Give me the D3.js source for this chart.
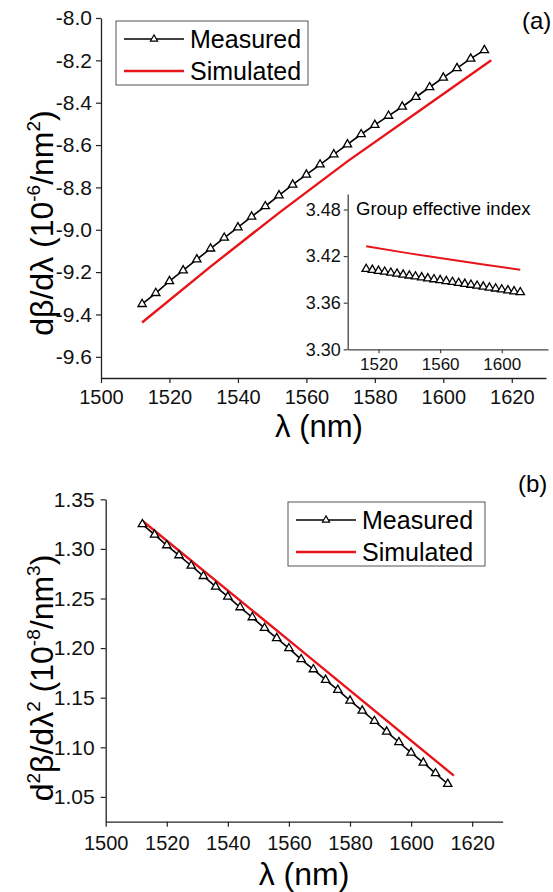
<!DOCTYPE html>
<html>
<head>
<meta charset="utf-8">
<script src="https://cdn.jsdelivr.net/npm/d3@7"></script>
<style>
body { margin: 0; background: #fff; }
svg { display: block; font-family: "Liberation Sans", Arial, sans-serif; }
</style>
</head>
<body>
<svg></svg>
<script>
const width = 553;
const height = 892;

// длины волн для измеренных точек (нм)
const wlMeasured = [1512, 1516, 1520, 1524, 1528, 1532, 1536, 1540, 1544, 1548, 1552, 1556, 1560,
    1564, 1568, 1572, 1576, 1580, 1584, 1588, 1592, 1596, 1600, 1604, 1608, 1612];
// (a) dβ/dλ, 10^-6/nm^2
const dbMeasured = [-9.351, -9.299, -9.243, -9.192, -9.140, -9.089, -9.038, -8.989, -8.938, -8.889,
    -8.838, -8.787, -8.740, -8.692, -8.644, -8.597, -8.549, -8.505, -8.462, -8.419, -8.373, -8.327,
    -8.282, -8.237, -8.192, -8.152];
const wlSimTop = [1512, 1532, 1552, 1572, 1592, 1614];
const dbSimulated = [-9.438, -9.174, -8.920, -8.677, -8.450, -8.200];
// вставка: групповой индекс
const ngMeasured = [3.4034, 3.4022, 3.4010, 3.3998, 3.3985, 3.3973, 3.3961, 3.3949, 3.3937, 3.3925,
    3.3913, 3.3901, 3.3890, 3.3878, 3.3866, 3.3854, 3.3842, 3.3830, 3.3818, 3.3806, 3.3794, 3.3782,
    3.3770, 3.3758, 3.3746, 3.3734];
const wlSimInset = [1512, 1537, 1562, 1587, 1612];
const ngSimulated = [3.4327, 3.4245, 3.4168, 3.4095, 3.4025];
// (b) d2β/dλ2, 10^-8/nm^3
const d2bMeasured = [1.3248, 1.3143, 1.3036, 1.2935, 1.2830, 1.2726, 1.2619, 1.2518, 1.2411, 1.2310,
    1.2202, 1.2100, 1.1998, 1.1887, 1.1786, 1.1679, 1.1578, 1.1470, 1.1369, 1.1265, 1.1157, 1.1051,
    1.0946, 1.0845, 1.0738, 1.0630];
const wlSimBottom = [1512, 1560, 1614];
const d2bSimulated = [1.3284, 1.2078, 1.0714];

// подписи осей
const xTicks = [1500, 1520, 1540, 1560, 1580, 1600, 1620];
const xMinor = [1510, 1530, 1550, 1570, 1590, 1610, 1630];
const yTicksTop = [-9.6, -9.4, -9.2, -9.0, -8.8, -8.6, -8.4, -8.2, -8.0];
const yMinorTop = [-9.5, -9.3, -9.1, -8.9, -8.7, -8.5, -8.3, -8.1];
const yTicksBottom = [1.05, 1.10, 1.15, 1.20, 1.25, 1.30, 1.35];
const yMinorBottom = [1.075, 1.125, 1.175, 1.225, 1.275, 1.325];
const xTicksInset = [1520, 1560, 1600];
const xMinorInset = [1540, 1580, 1620];
const yTicksInset = [3.30, 3.36, 3.42, 3.48];
const yMinorInset = [3.33, 3.39, 3.45];

let svg = d3.select("svg")
    .attr("width", width)
    .attr("height", height);

function createAxis(scX, scY, o) {
    const [x0] = scX.range();
    const [y0] = scY.range();
    let gx = svg.append("g")
        .attr("transform", `translate(0, ${y0})`)
        .style("font-size", o.fs + "px");
    gx.call(d3.axisBottom(scX).tickValues(o.xMinor).tickSize(o.minor).tickFormat(""));
    gx.call(d3.axisBottom(scX).tickValues(o.xTicks).tickSize(o.major)
        .tickPadding(o.xPad).tickFormat(d => d).tickSizeOuter(0));
    let gy = svg.append("g")
        .attr("transform", `translate(${x0}, 0)`)
        .style("font-size", o.fsY + "px");
    gy.call(d3.axisLeft(scY).tickValues(o.yMinor).tickSize(o.minor).tickFormat(""));
    gy.call(d3.axisLeft(scY).tickValues(o.yTicks).tickSize(o.major)
        .tickPadding(o.yPad).tickFormat(d => d.toFixed(o.dec)).tickSizeOuter(0));
    [gx, gy].forEach(g => {
        g.selectAll(".tick line").attr("stroke", o.color).attr("stroke-width", 1.2);
        g.selectAll(".tick text").attr("fill", "#111").style("font-family", "Liberation Sans, Arial, sans-serif");
        g.selectAll(".domain").attr("stroke", o.color).attr("stroke-width", 1.3);
    });
}

function createChart(wl, vals, scX, scY, color, markers, sw) {
    let pts = wl.map((w, i) => [scX(w), scY(vals[i])]);
    svg.append("path")
        .attr("d", d3.line()(pts))
        .attr("fill", "none")
        .attr("stroke", color)
        .attr("stroke-width", sw);
    if (markers) {
        svg.selectAll(null)
            .data(pts)
            .enter()
            .append("path")
            .attr("d", d3.symbol(d3.symbolTriangle).size(30))
            .attr("transform", d => `translate(${d[0]}, ${d[1]})`)
            .attr("fill", "#fff")
            .attr("stroke", "#000")
            .attr("stroke-width", 1.3);
    }
}

function createLegend(x, y, w, h) {
    svg.append("rect")
        .attr("x", x).attr("y", y).attr("width", w).attr("height", h)
        .attr("fill", "#fff").attr("stroke", "#555").attr("stroke-width", 1);
    const rows = [["Measured", "#000", true], ["Simulated", "#e8141b", false]];
    rows.forEach((r, i) => {
        let cy = y + 18 + i * 32;
        svg.append("line")
            .attr("x1", x + 8).attr("x2", x + 68).attr("y1", cy).attr("y2", cy)
            .attr("stroke", r[1]).attr("stroke-width", r[2] ? 1.6 : 2.4);
        if (r[2]) {
            svg.append("path")
                .attr("d", d3.symbol(d3.symbolTriangle).size(22))
                .attr("transform", `translate(${x + 38}, ${cy})`)
                .attr("fill", "#fff").attr("stroke", "#000").attr("stroke-width", 1.2);
        }
        svg.append("text")
            .attr("x", x + 74).attr("y", cy + 9)
            .style("font-size", "25px")
            .text(r[0]);
    });
}

function yTitle(x, y, parts) {
    let t = svg.append("text")
        .attr("transform", `translate(${x}, ${y}) rotate(-90)`)
        .attr("text-anchor", "middle")
        .style("font-size", "32px");
    addParts(t, parts);
}

// надстрочные индексы через dy
function addParts(t, parts) {
    let shift = 0;
    parts.forEach(p => {
        let s = t.append("tspan").text(p[0]);
        if (p[1]) {
            s.style("font-size", "19px").attr("dy", -13 - shift);
            shift = -13;
        } else if (shift) {
            s.attr("dy", -shift);
            shift = 0;
        }
    });
}

// ---------- (a) ----------
const xA = d3.scaleLinear().domain([1500, 1630]).range([101, 546]);
const yA = d3.scaleLinear().domain([-9.7, -8.0]).range([378, 18]);
createAxis(xA, yA, { xTicks, xMinor, yTicks: yTicksTop, yMinor: yMinorTop, major: 5, minor: 3,
    xPad: 7, yPad: 4, dec: 1, fs: 20, fsY: 21, color: "#222" });
createChart(wlSimTop, dbSimulated, xA, yA, "#e8141b", false, 2.4);
createChart(wlMeasured, dbMeasured, xA, yA, "#000", true, 1.6);
createLegend(116, 21, 192, 64);
yTitle(53, 223, [["dβ/dλ (10"], ["-6", true], ["/nm"], ["2", true], [")"]]);
svg.append("text").attr("x", 319).attr("y", 437).attr("text-anchor", "middle")
    .style("font-size", "31px").text("λ (nm)");
svg.append("text").attr("x", 522).attr("y", 29).style("font-size", "24px").text("(a)");

// вставка
const xI = d3.scaleLinear().domain([1500, 1630]).range([347.7, 548]);
const yI = d3.scaleLinear().domain([3.30, 3.50]).range([349.3, 194]);
createAxis(xI, yI, { xTicks: xTicksInset, xMinor: xMinorInset, yTicks: yTicksInset, yMinor: yMinorInset,
    major: 4, minor: 2.5, xPad: 5, yPad: 3, dec: 2, fs: 17, fsY: 18, color: "#444" });
createChart(wlSimInset, ngSimulated, xI, yI, "#e8141b", false, 2);
createChart(wlMeasured, ngMeasured, xI, yI, "#000", true, 1.2);
svg.append("text").attr("x", 356).attr("y", 215).style("font-size", "18.5px").text("Group effective index");

// ---------- (b) ----------
const xB = d3.scaleLinear().domain([1500, 1630]).range([105.7, 502.7]);
const yB = d3.scaleLinear().domain([1.025, 1.35]).range([821.7, 499.3]);
createAxis(xB, yB, { xTicks, xMinor, yTicks: yTicksBottom, yMinor: yMinorBottom, major: 5, minor: 3,
    xPad: 9, yPad: 6, dec: 2, fs: 20, fsY: 21, color: "#222" });
createChart(wlSimBottom, d2bSimulated, xB, yB, "#e8141b", false, 2.4);
createChart(wlMeasured, d2bMeasured, xB, yB, "#000", true, 1.6);
createLegend(288, 502, 197, 64);
yTitle(53, 678, [["d"], ["2", true], ["β/dλ"], ["2", true], [" (10"], ["-8", true], ["/nm"], ["3", true], [")"]]);
svg.append("text").attr("x", 304).attr("y", 885).attr("text-anchor", "middle")
    .style("font-size", "32px").text("λ (nm)");
svg.append("text").attr("x", 518).attr("y", 492).style("font-size", "24px").text("(b)");
</script>
</body>
</html>
